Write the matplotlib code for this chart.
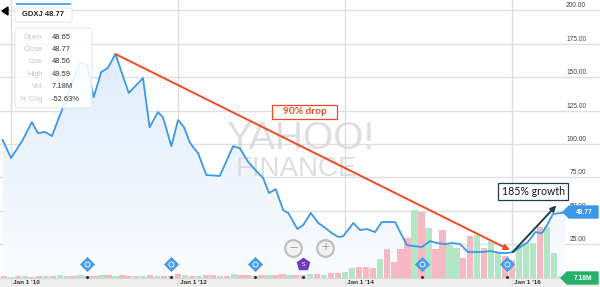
import matplotlib
matplotlib.use("Agg")
import matplotlib.pyplot as plt
import numpy as np
from matplotlib.colors import LinearSegmentedColormap
from matplotlib.patches import FancyBboxPatch, Polygon, Rectangle

plt.rcParams["font.family"] = ["Liberation Sans", "DejaVu Sans"]

# monthly-ish closes (year fraction, price)
price_years = [
    2009.90, 2010.00, 2010.14, 2010.25, 2010.32, 2010.41, 2010.49, 2010.83,
    2010.91, 2010.99, 2011.08, 2011.16, 2011.25, 2011.41, 2011.58, 2011.66,
    2011.76, 2011.82, 2011.92, 2012.00, 2012.07, 2012.14, 2012.18, 2012.24,
    2012.34, 2012.50, 2012.66, 2012.74, 2012.84, 2012.95, 2013.02, 2013.09,
    2013.17, 2013.26, 2013.32, 2013.43, 2013.50, 2013.59, 2013.68, 2013.75,
    2013.84, 2013.92, 2013.98, 2014.10, 2014.18, 2014.26, 2014.36, 2014.44,
    2014.60, 2014.74, 2014.81, 2014.92, 2015.02, 2015.10, 2015.20, 2015.29,
    2015.38, 2015.47, 2015.65, 2015.74, 2015.86, 2015.94, 2016.01, 2016.19,
    2016.28, 2016.36, 2016.42, 2016.49, 2016.64,
]
price_close = [
    103.0, 89.5, 103.0, 116.5, 108.2, 109.0, 106.0, 161.3,
    159.1, 135.1, 153.9, 156.9, 167.4, 138.2, 149.4, 112.6,
    123.9, 120.1, 98.4, 117.9, 112.8, 101.4, 97.7, 93.2,
    76.8, 76.1, 98.4, 96.9, 86.6, 79.0, 74.5, 63.3,
    66.3, 50.5, 48.4, 36.4, 39.4, 48.4, 40.9, 37.9,
    33.4, 30.4, 31.1, 40.9, 35.6, 36.4, 34.1, 41.6,
    41.6, 24.4, 23.7, 22.9, 27.4, 25.9, 25.1, 25.9,
    25.1, 19.2, 19.2, 19.9, 18.4, 18.4, 19.2, 26.6,
    34.1, 33.3, 39.4, 47.6, 48.77,
]

# monthly volume (millions), Nov 2009 .. Aug 2016, and up/down colour
volume_m = [
    8, 8,
    4, 8, 8, 4, 8, 8, 8, 12, 8, 8, 12, 8,
    8, 12, 12, 8, 12, 8, 8, 8, 12, 8, 8, 8,
    16, 12, 8, 8, 12, 12, 8, 8, 16, 12, 12, 8,
    12, 12, 12, 16, 12, 12, 12, 16, 16, 12, 20, 20,
    24, 40, 44, 44, 40, 76, 116, 64, 116, 160, 272, 264,
    200, 116, 192, 132, 120, 80, 168, 172, 120, 148, 100, 88,
    72, 132, 140, 140, 204, 204, 100, 8,
]
volume_up = [
    1, 0,
    1, 0, 1, 0, 0, 1, 0, 1, 1, 0, 1, 0,
    0, 1, 0, 1, 0, 0, 1, 1, 0, 1, 0, 0,
    0, 1, 0, 1, 0, 0, 1, 0, 1, 0, 0, 1,
    0, 1, 0, 0, 1, 0, 0, 1, 0, 1, 0, 0,
    1, 1, 0, 0, 0, 1, 0, 0, 0, 0, 1, 0,
    1, 0, 0, 1, 1, 0, 0, 1, 0, 1, 1, 0,
    0, 1, 1, 1, 0, 1, 1, 1,
]
volume_years = [2010 + (k - 2) / 12 for k in range(len(volume_m))]

# dividend / split event flags along the bottom
event_years = [2010.91, 2011.92, 2012.92, 2013.50, 2014.92, 2015.94]
event_kind = ["D", "D", "D", "S", "D", "D"]

y_ticks = [25, 50, 75, 100, 125, 150, 175, 200]
x_ticks = [2010, 2012, 2014, 2016]
x_labels = ["Jan 1 '10", "Jan 1 '12", "Jan 1 '14", "Jan 1 '16"]

tooltip_keys = ["Open", "Close", "Low", "High", "Vol", "% Chg"]
tooltip_vals = ["48.65", "48.77", "48.56", "49.59", "7.18M", "-52.63%"]

W, H = 600, 287
XMIN, XMAX = 2009.868, 2017.054
YMIN, YMAX = -7.0, 207.8
VOL_SCALE = 0.187
BLUE = "#3b98e8"


def px(x, y):
    return x / W, 1 - y / H


fig = plt.figure(figsize=(6, 2.87), dpi=100)
ax = fig.add_axes([0, 0, 1, 1])
ax.set_xlim(XMIN, XMAX)
ax.set_ylim(YMIN, YMAX)
ax.axis("off")

# date strip at the bottom
ax.add_patch(Rectangle((XMIN, YMIN), XMAX - XMIN, -YMIN, color="#efefef", zorder=0))
for t in y_ticks:
    ax.axhline(t, color="#e0e0e0", lw=1, zorder=1)
    ax.text(0.977, t + 0.8, f"{t:.2f}", transform=ax.get_yaxis_transform(),
            ha="right", va="bottom", fontsize=4.8, color="#444444", zorder=8)
ax.axhline(0, color="#d8d8d8", lw=0.8, zorder=1)
for t, lab in zip(x_ticks, x_labels):
    ax.axvline(t, color="#dddddd", lw=1, zorder=1)
    ax.text(t + 0.025, -3.6, lab, ha="left", va="center", fontsize=4.6,
            fontweight="bold", color="#333333", zorder=8)

# gradient fill under the price line
poly = ax.fill_between(price_years, price_close, 0, color="none", zorder=1.5)
cmap = LinearSegmentedColormap.from_list("fill", ["#fafcff", "#e0edfb"])
grad = np.linspace(0, 1, 256).reshape(-1, 1)
im = ax.imshow(grad, extent=[XMIN, XMAX, 0, 170], origin="lower", aspect="auto",
               cmap=cmap, zorder=1.5)
im.set_clip_path(poly.get_paths()[0], transform=ax.transData)
ax.set_xlim(XMIN, XMAX)
ax.set_ylim(YMIN, YMAX)

# watermark
ax.text(*px(300, 139), "YAHOO!", transform=ax.transAxes, ha="center", va="center",
        fontsize=28, color="#d6d6d6", alpha=0.8, zorder=2)
ax.text(*px(297, 169), "FINANCE", transform=ax.transAxes, ha="center", va="center",
        fontsize=20, color="#d6d6d6", alpha=0.8, zorder=2)

# volume bars
vol_colors = ["#b3e6c4" if u else "#f6b8c2" for u in volume_up]
ax.bar(volume_years, [v * VOL_SCALE for v in volume_m], width=0.076,
       color=vol_colors, linewidth=0, zorder=3)

# price line
ax.plot(price_years, price_close, color=BLUE, lw=1.3, zorder=4)

# event flags
for yr, kind in zip(event_years, event_kind):
    if kind == "D":
        ax.plot(yr, 10.2, marker="D", ms=7.5, color="#4aa0ec", mec="#3a90dc",
                mew=0.5, zorder=5)
        ax.plot(yr, 10.2, marker="o", ms=3.5, mfc="none", mec="white", mew=0.6, zorder=5)
    else:
        ax.plot(yr, 10.2, marker="p", ms=9, color="#6e3cc0", zorder=5)
        ax.text(yr, 10.0, "S", ha="center", va="center", fontsize=3.8,
                color="white", zorder=6)
    ax.plot(yr, 0.3, marker="o", ms=1.2, color="#333333", zorder=5)

# zoom buttons
for (bx, by), sym in [((293, 248), "\u2212"), ((325, 248), "+")]:
    ax.plot(*px(bx, by), transform=ax.transAxes, marker="o", ms=12,
            mfc="#f2f2f2", mec="#b8b8b8", mew=1.6, alpha=0.9, zorder=5)
    ax.text(*px(bx, by - 0.5), sym, transform=ax.transAxes, ha="center",
            va="center", fontsize=10, color="#a8a8a8", zorder=6)

# annotation arrows
i_peak = int(np.argmax(price_close))
i_low = price_years.index(2016.01)
ax.annotate("", xy=(2015.975, 20.7), xytext=(price_years[i_peak], price_close[i_peak]),
            arrowprops=dict(arrowstyle="-|>", color="#f04a24", lw=1.4,
                            mutation_scale=8, shrinkA=0, shrinkB=0), zorder=6)
ax.annotate("", xy=(2016.53, 54.0), xytext=(price_years[i_low], price_close[i_low]),
            arrowprops=dict(arrowstyle="-|>", color="#1c3e4e", lw=1.4,
                            mutation_scale=8, shrinkA=0, shrinkB=0), zorder=6)

# "90% drop" label in a wide white box
ax.add_patch(Rectangle(px(272, 119), 65 / W, 14 / H, transform=ax.transAxes,
                       fc="white", ec="#f04a24", lw=0.9, zorder=7))
ax.text(*px(304.5, 112), "90% drop", transform=ax.transAxes, ha="center",
        va="center", fontsize=7.3, fontweight="bold", color="#f04a24",
        family=["Lato", "DejaVu Sans"], zorder=8)
ax.text(*px(533, 191.5), "185% growth", transform=ax.transAxes, ha="center",
        va="center", fontsize=7.6, color="#111122",
        family=["Lato", "DejaVu Sans"], zorder=7,
        bbox=dict(boxstyle="square,pad=0.3", fc="white", ec="#1c3e4e", lw=0.9))

# price / volume tags on the right
ax.add_patch(Polygon([px(563, 212), px(569, 206), px(598, 206), px(598, 218),
                      px(569, 218)], closed=True, transform=ax.transAxes,
                     color=BLUE, zorder=8))
ax.text(*px(584, 212), "48.77", transform=ax.transAxes, ha="center", va="center",
        fontsize=4.8, fontweight="bold", color="white", zorder=9)
ax.add_patch(Polygon([px(561, 278), px(567, 272), px(598, 272), px(598, 284),
                      px(567, 284)], closed=True, transform=ax.transAxes,
                     color="#27b06a", zorder=8))
ax.text(*px(583, 278), "7.18M", transform=ax.transAxes, ha="center", va="center",
        fontsize=4.8, fontweight="bold", color="white", zorder=9)

# ticker label and tooltip
ax.add_patch(Polygon([px(2, 11), px(8, 7), px(8, 15)], closed=True,
                     transform=ax.transAxes, color="black", zorder=9))
ax.plot([16 / W, 71 / W], [1 - 4 / H] * 2, transform=ax.transAxes, color=BLUE,
        lw=1.2, solid_capstyle="butt", zorder=9)
ax.add_patch(FancyBboxPatch(px(15, 22), 57 / W, 14 / H, transform=ax.transAxes,
                            boxstyle="round,pad=0,rounding_size=0.004",
                            fc="white", ec="#e2e2e2", lw=0.6, zorder=9))
ax.text(*px(43.5, 15), "GDXJ 48.77", transform=ax.transAxes, ha="center",
        va="center", fontsize=5.5, fontweight="bold", color="#222222", zorder=10)
ax.add_patch(FancyBboxPatch(px(15, 108), 77 / W, 80 / H, transform=ax.transAxes,
                            boxstyle="round,pad=0,rounding_size=0.008",
                            fc="white", ec="#dcdcdc", lw=0.6, alpha=0.88, zorder=9))
for i, (k, v) in enumerate(zip(tooltip_keys, tooltip_vals)):
    yy = 37 + i * 12.4
    ax.text(*px(42.5, yy), k, transform=ax.transAxes, ha="right", va="center",
            fontsize=5.4, color="#c4c4c4", zorder=10)
    ax.text(*px(52, yy), v, transform=ax.transAxes, ha="left", va="center",
            fontsize=5.4, color="#333333", zorder=10)

fig.savefig("out.png", dpi=100)
